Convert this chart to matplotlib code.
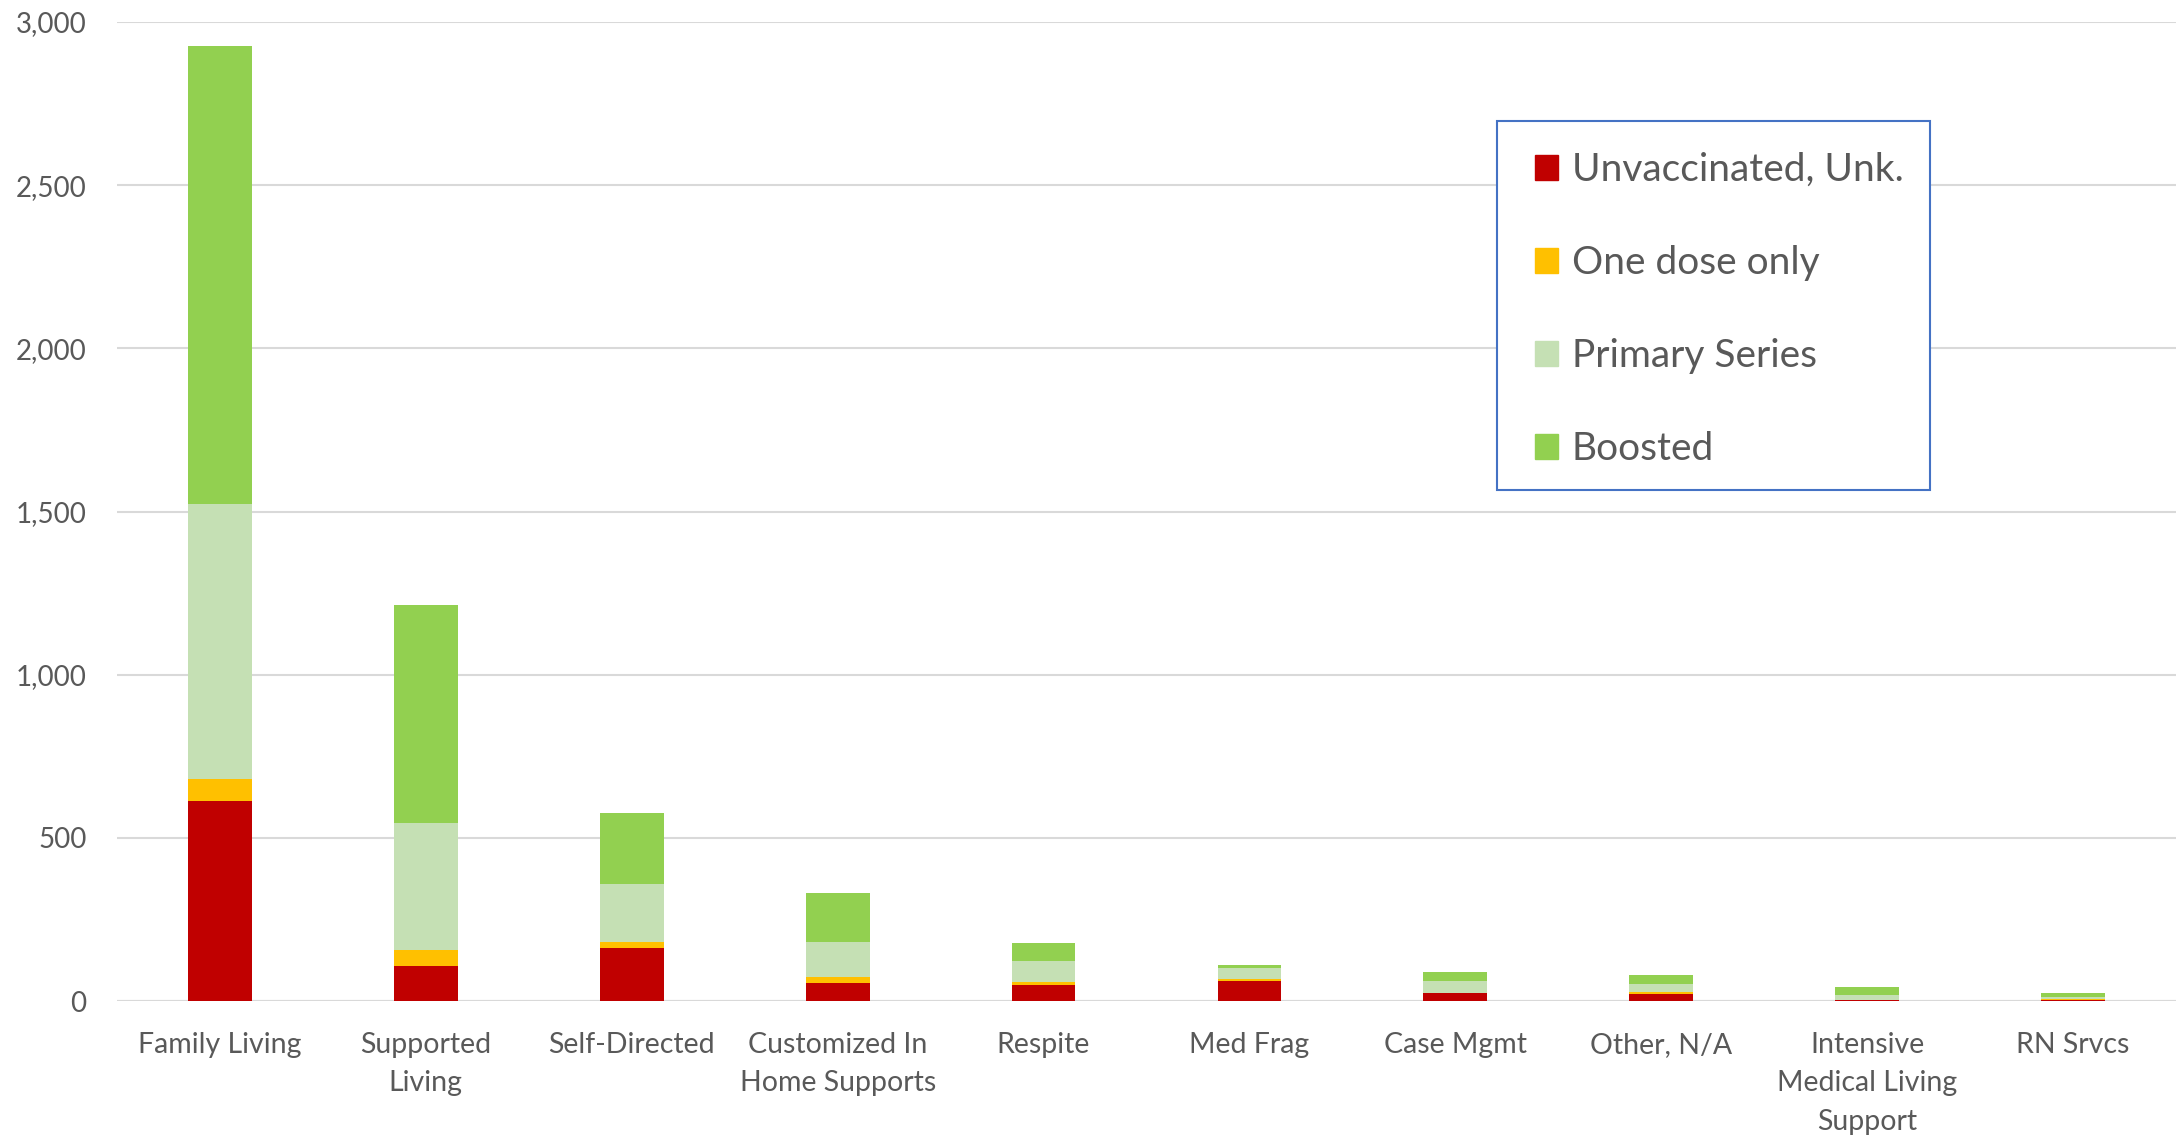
import matplotlib.pyplot as plt
import matplotlib.patches as mpatches
from matplotlib.ticker import FuncFormatter
import numpy as np

plt.rcParams['font.family'] = ['Lato', 'DejaVu Sans']

categories = ["Family Living", "Supported\nLiving", "Self-Directed", "Customized In\nHome Supports",
              "Respite", "Med Frag", "Case Mgmt", "Other, N/A",
              "Intensive\nMedical Living\nSupport", "RN Srvcs"]
unvaccinated = [614, 106, 161, 55, 50, 60, 23, 20, 3, 4]
one_dose = [67, 50, 19, 19, 9, 8, 3, 7, 1, 2]
primary = [843, 389, 177, 108, 64, 32, 34, 25, 14, 6]
boosted = [1403, 669, 218, 148, 55, 9, 28, 27, 26, 11]

series = [("Unvaccinated, Unk.", unvaccinated, "#C00000"),
          ("One dose only", one_dose, "#FFC000"),
          ("Primary Series", primary, "#C5E0B4"),
          ("Boosted", boosted, "#92D050")]

text_color = "#595959"
W, H = 2183, 1136

fig = plt.figure(figsize=(W / 100, H / 100), dpi=100)
ax = fig.add_axes([117 / W, 1 - 1001 / H, (2176 - 117) / W, (1001 - 22) / H])

x = np.arange(len(categories))
bottom = np.zeros(len(categories))
handles = []
for name, vals, color in series:
    ax.bar(x, vals, width=0.31, bottom=bottom, color=color, zorder=3)
    bottom += np.array(vals)
    handles.append(mpatches.Patch(color=color, label=name))

ax.set_xlim(-0.5, len(categories) - 0.5)
ax.set_ylim(0, 3000)
ax.set_yticks(range(0, 3001, 500))
ax.yaxis.set_major_formatter(FuncFormatter(lambda v, _: f"{int(v):,}"))
ax.grid(axis="y", color="#D9D9D9", linewidth=1.5, zorder=0)
for side in ["top", "right", "left", "bottom"]:
    ax.spines[side].set_visible(False)
ax.axhline(0, color="#D9D9D9", linewidth=1.5, zorder=2)

ax.set_xticks(x)
ax.set_xticklabels(categories, fontsize=20.5, color=text_color, linespacing=1.6, va="top")
ax.tick_params(axis="x", length=0, pad=22)
ax.tick_params(axis="y", length=0, pad=22, labelsize=20, labelcolor=text_color)

# legend box drawn on its own so the inner padding can differ from the frame
frame = mpatches.Rectangle((1497 / W, 1 - 490 / H), (1930 - 1497) / W, (490 - 121) / H,
                           transform=fig.transFigure, facecolor="white",
                           edgecolor="#4472C4", linewidth=1.5, zorder=5)
fig.patches.append(frame)

leg = fig.legend(handles=handles, loc="upper left",
                 bbox_to_anchor=(1535 / W, 1 - 152 / H), bbox_transform=fig.transFigure,
                 fontsize=28, labelcolor=text_color, frameon=False,
                 handlelength=0.6, handleheight=0.6, handletextpad=0.35,
                 labelspacing=1.47, borderpad=0, borderaxespad=0)
leg.set_zorder(6)

fig.savefig("out.png", dpi=100)
